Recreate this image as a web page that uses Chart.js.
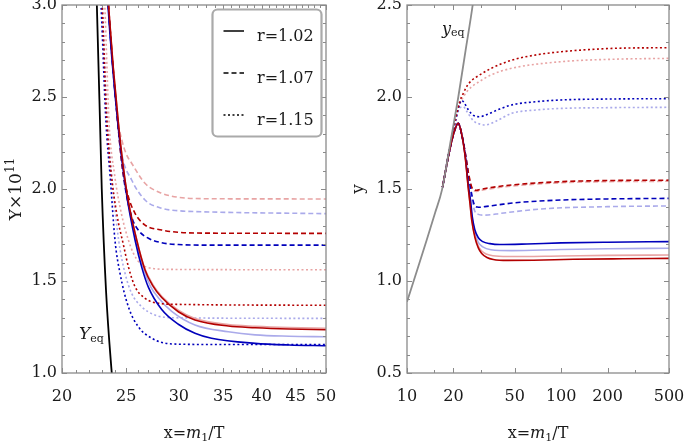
<!DOCTYPE html>
<html>
<head>
<meta charset="utf-8">
<script src="https://cdn.jsdelivr.net/npm/chart.js@4.4.0/dist/chart.umd.min.js"></script>
<style>
  body { margin: 0; background: #fff; overflow: hidden; }
  #wrap { position: relative; width: 685px; height: 441px; }
  canvas { position: absolute; top: 0; }
</style>
</head>
<body>
<div id="wrap">
  <canvas id="leftChart" width="345" height="441" style="left:0"></canvas>
  <canvas id="rightChart" width="340" height="441" style="left:345px"></canvas>
</div>
<script>
// ---- tick labels ----
const leftXTicks = [20, 25, 30, 35, 40, 45, 50];
const leftYTicks = [1.0, 1.5, 2.0, 2.5, 3.0];
const rightXTicks = [10, 20, 50, 100, 200, 500];
const rightYTicks = [0.5, 1.0, 1.5, 2.0, 2.5];
const rightXMinor = [15, 30, 300];

// ---- left panel: Y x 10^11 vs x ----
const leftYeq = [[22.5,3.1],[22.56,3.03],[22.96,2.0],[23.3,1.45],[23.77,1.0],[23.85,0.94]];

const L_solid_dr = [[23.2,3.35],[23.5,3.0],[24.35,2.34],[25.05,1.98],[25.92,1.723],[26.68,1.56],[27.4,1.475],[28.27,1.41],[29.95,1.333],[31.73,1.288],[35.62,1.255],[39.1,1.246],[44,1.239],[50,1.235]];
const L_solid_lr = [[23.2,3.35],[23.5,3.0],[24.35,2.34],[25.05,1.98],[25.92,1.725],[26.68,1.565],[27.4,1.482],[28.27,1.417],[29.95,1.341],[31.73,1.296],[35.62,1.263],[39.1,1.254],[44,1.247],[50,1.243]];
const L_solid_db = [[23.2,3.35],[23.46,3.0],[24.3,2.34],[25.0,1.98],[25.77,1.723],[26.4,1.57],[27.0,1.465],[28.27,1.345],[29.95,1.265],[31.73,1.216],[33.6,1.189],[39.1,1.161],[44,1.152],[50,1.148]];
const L_solid_lb = [[23.2,3.35],[23.48,3.0],[24.32,2.34],[25.02,1.98],[25.85,1.723],[26.55,1.565],[27.2,1.47],[28.0,1.405],[29.27,1.335],[31.73,1.261],[35.62,1.224],[39.1,1.207],[44,1.2],[50,1.197]];

const L_dash_lr = [[23.2,3.35],[23.5,3.0],[24.3,2.37],[24.6,2.27],[25.0,2.19],[25.47,2.14],[26.68,2.031],[28.27,1.977],[29.95,1.955],[33.6,1.947],[50,1.946]];
const L_dash_lb = [[23.2,3.35],[23.5,3.0],[24.3,2.35],[24.6,2.194],[25.47,2.049],[26.68,1.94],[28.27,1.895],[29.95,1.882],[33.6,1.875],[50,1.866]];
const L_dash_dr = [[23.2,3.35],[23.5,3.0],[24.3,2.34],[24.7,2.1],[25.18,1.958],[25.77,1.868],[26.68,1.804],[28.27,1.777],[29.95,1.765],[33.6,1.76],[50,1.759]];
const L_dash_db = [[23.2,3.35],[23.48,3.0],[24.3,2.34],[24.8,2.05],[25.47,1.849],[26.06,1.777],[27.0,1.732],[28.27,1.708],[29.95,1.698],[33.6,1.695],[50,1.695]];

const L_dot_db = [[22.6,3.35],[22.9,3.0],[23.3,2.36],[23.65,2.06],[24.04,1.72],[24.46,1.542],[25.18,1.36],[26.06,1.252],[27.31,1.189],[29.27,1.158],[33.6,1.155],[50,1.155]];
const L_dot_dr = [[22.75,3.35],[23.0,3.0],[23.35,2.4],[23.7,2.1],[24.2,1.86],[24.74,1.70],[25.18,1.578],[25.77,1.469],[26.68,1.406],[27.94,1.379],[29.95,1.373],[50,1.368]];
const L_dot_lb = [[22.75,3.35],[23.0,3.0],[23.4,2.38],[23.8,2.05],[24.35,1.72],[24.89,1.542],[25.47,1.433],[26.37,1.36],[27.62,1.315],[29.6,1.3],[50,1.297]];
const L_dot_lr = [[22.9,3.35],[23.2,3.0],[23.55,2.36],[24.0,2.08],[24.6,1.86],[25.18,1.723],[25.62,1.651],[26.22,1.596],[27.31,1.569],[29.27,1.563],[50,1.561]];

// ---- right panel: y vs x ----
const rightYeq = [[10,0.887],[11.6,1.056],[13.42,1.223],[15.2,1.37],[16.86,1.495],[19,1.74],[21.51,2.0],[24,2.255],[26.67,2.5],[27.6,2.6]];

const R_solid_dr = [[17,1.51],[19,1.72],[20.3,1.815],[21.5,1.857],[22.6,1.80],[23.8,1.68],[25.0,1.50],[25.62,1.42],[26.3,1.33],[27.6,1.235],[29.0,1.18],[30.5,1.15],[33,1.128],[36.3,1.117],[45,1.112],[66,1.113],[120,1.118],[250,1.121],[500,1.123]];
const R_solid_lr = [[17,1.51],[19,1.72],[20.3,1.815],[21.5,1.857],[22.6,1.80],[23.8,1.68],[25.0,1.50],[25.65,1.42],[26.35,1.33],[27.6,1.245],[29,1.19],[30.5,1.163],[33,1.145],[36,1.137],[45,1.133],[100,1.136],[200,1.139],[500,1.141]];
const R_solid_lb = [[17,1.51],[19,1.72],[20.3,1.815],[21.5,1.857],[22.6,1.80],[23.8,1.69],[25.0,1.51],[25.7,1.43],[26.4,1.34],[27.5,1.26],[29,1.21],[31,1.185],[35,1.17],[47.7,1.165],[100,1.171],[200,1.175],[500,1.178]];
const R_solid_db = [[17,1.51],[19,1.72],[20.3,1.815],[21.5,1.857],[22.6,1.80],[23.8,1.69],[25.0,1.52],[25.8,1.44],[26.5,1.35],[27.5,1.28],[29,1.235],[31,1.214],[34.5,1.203],[40,1.198],[60,1.201],[100,1.207],[200,1.211],[500,1.214]];

const R_dash_dr = [[17,1.51],[19,1.72],[20.3,1.815],[21.5,1.857],[22.6,1.80],[23.8,1.70],[25.0,1.59],[26.3,1.51],[27.3,1.496],[28.3,1.493],[30,1.498],[35,1.508],[47.7,1.522],[100,1.54],[200,1.546],[500,1.548]];
const R_dash_lr = [[17,1.51],[19,1.72],[20.3,1.815],[21.5,1.857],[22.6,1.80],[23.8,1.70],[25.0,1.585],[26.3,1.505],[27.3,1.49],[28.3,1.487],[30,1.492],[35,1.502],[47.7,1.516],[100,1.534],[200,1.54],[500,1.542]];
const R_dash_db = [[17,1.51],[19,1.72],[20.3,1.815],[21.5,1.857],[22.6,1.80],[23.8,1.70],[25.0,1.58],[26.3,1.47],[27.3,1.415],[28.5,1.402],[30,1.401],[32,1.404],[40,1.415],[50,1.425],[100,1.44],[200,1.446],[500,1.449]];
const R_dash_lb = [[17,1.51],[19,1.72],[20.3,1.815],[21.5,1.857],[22.6,1.80],[23.8,1.70],[25.0,1.57],[26.3,1.45],[27.5,1.38],[29,1.362],[31,1.358],[35,1.36],[40,1.367],[78.5,1.393],[200,1.404],[500,1.408]];

const R_dot_dr = [[17,1.51],[19,1.73],[20.5,1.87],[22,1.975],[23.18,2.02],[24.5,2.06],[26.27,2.09],[29,2.115],[35,2.155],[47.7,2.20],[70,2.23],[100,2.246],[212,2.264],[500,2.268]];
const R_dot_lr = [[17,1.51],[19,1.73],[20.5,1.865],[22,1.965],[23.18,2.0],[24.5,2.03],[26.27,2.056],[29,2.08],[35,2.12],[47.7,2.156],[100,2.192],[212,2.205],[500,2.21]];
const R_dot_db = [[17,1.51],[19,1.73],[20.5,1.86],[22,1.965],[22.63,1.982],[23.5,1.968],[25,1.93],[27,1.90],[29.74,1.893],[33,1.905],[40,1.935],[47.7,1.957],[70,1.975],[100,1.984],[200,1.989],[500,1.991]];
const R_dot_lb = [[17,1.51],[19,1.73],[20.5,1.855],[22,1.94],[23.18,1.947],[24.5,1.92],[27,1.87],[30,1.852],[32.05,1.848],[38,1.87],[47.7,1.911],[70,1.93],[100,1.938],[200,1.942],[500,1.944]];

// ---- styles ----
const DR = '#b30000', LR = '#e8a4a4', DB = '#0000bb', LB = '#aaaaea';
const SOLID = [], DASH = [5, 3], DOT = [2, 2.5];
const SERIF = "'DejaVu Serif', 'Liberation Serif', serif";
const INK = '#1a1a1a';

Chart.defaults.font.family = SERIF;
Chart.defaults.font.size = 16;
Chart.defaults.color = INK;

function line(pts, color, dash, w) {
  return {
    data: pts.map(([x, y]) => ({ x, y })),
    borderColor: color,
    borderDash: dash,
    borderWidth: w || 1.6,
    pointRadius: 0,
    fill: false,
    cubicInterpolationMode: 'monotone'
  };
}

function drawRuns(ctx, x, y, runs, align) {
  let w = 0;
  runs.forEach(r => { ctx.font = r[1]; w += ctx.measureText(r[0]).width; });
  let cx = align === 'left' ? x : x - w / 2;
  ctx.textAlign = 'left';
  ctx.textBaseline = 'alphabetic';
  runs.forEach(r => {
    ctx.font = r[1];
    ctx.fillText(r[0], cx, y + (r[2] || 0));
    cx += ctx.measureText(r[0]).width;
  });
}

const F = '16px ' + SERIF, FI = 'italic 16px ' + SERIF, FS = '11px ' + SERIF;

// frame with inward ticks on all four sides
const frame = {
  id: 'frame',
  afterDatasetsDraw(chart, args, o) {
    const { ctx, chartArea: a, scales: { x, y } } = chart;
    ctx.save();
    ctx.strokeStyle = '#8a8a8a';
    ctx.lineWidth = 1.3;
    ctx.strokeRect(a.left, a.top, a.right - a.left, a.bottom - a.top);
    ctx.lineWidth = 1;
    ctx.beginPath();
    o.xTicks.forEach(([v, len]) => {
      const p = Math.round(x.getPixelForValue(v)) + 0.5;
      ctx.moveTo(p, a.bottom); ctx.lineTo(p, a.bottom - len);
      ctx.moveTo(p, a.top); ctx.lineTo(p, a.top + len);
    });
    o.yTicks.forEach(([v, len]) => {
      const p = Math.round(y.getPixelForValue(v)) + 0.5;
      ctx.moveTo(a.left, p); ctx.lineTo(a.left + len, p);
      ctx.moveTo(a.right, p); ctx.lineTo(a.right - len, p);
    });
    ctx.stroke();
    ctx.restore();
  }
};

function tickList(major, from, to, step) {
  const out = major.map(v => [v, 5]);
  for (let v = from; v < to - 1e-9; v += step) {
    const r = Math.round(v * 1000) / 1000;
    if (!major.some(m => Math.abs(m - r) < 1e-9)) out.push([r, 3]);
  }
  return out;
}

function scalesFor(xMin, xMax, xTicks, yMin, yMax, yTicks) {
  return {
    x: {
      type: 'logarithmic', min: xMin, max: xMax,
      grid: { display: false, drawTicks: false },
      border: { display: false },
      afterBuildTicks: s => { s.ticks = xTicks.map(v => ({ value: v })); },
      afterFit: s => { s.height = 68; s.paddingLeft = 0; s.paddingRight = 0; },
      ticks: { callback: v => String(v), padding: 14, maxRotation: 0, autoSkip: false, source: 'data' }
    },
    y: {
      type: 'linear', min: yMin, max: yMax,
      grid: { display: false, drawTicks: false },
      border: { display: false },
      afterBuildTicks: s => { s.ticks = yTicks.map(v => ({ value: v })); },
      afterFit: s => { s.width = 62; s.paddingTop = 0; s.paddingBottom = 0; },
      ticks: { callback: v => Number(v).toFixed(1), padding: 5, autoSkip: false, source: 'data' }
    }
  };
}

// ---- left chart ----
const leftText = {
  id: 'leftText',
  afterDraw(chart) {
    const c = chart.ctx;
    c.save();
    c.fillStyle = INK;
    drawRuns(c, 194, 438, [['x=', F], ['m', FI], ['1', FS, 3], ['/T', F]]);
    c.translate(21, 189);
    c.rotate(-Math.PI / 2);
    drawRuns(c, 0, 0, [['Y×10', '17px ' + SERIF], ['11', '12px ' + SERIF, -7]]);
    c.setTransform(1, 0, 0, 1, 0, 0);
    drawRuns(c, 79, 339, [['Y', 'italic 17px ' + SERIF], ['eq', '11px ' + SERIF, 3]], 'left');
    // legend box
    c.fillStyle = '#fff';
    c.strokeStyle = '#aaaaaa';
    c.lineWidth = 2.2;
    c.beginPath();
    c.roundRect(212.5, 9.5, 109, 127, 5);
    c.fill();
    c.stroke();
    const items = [['r=1.02', SOLID, 31], ['r=1.07', DASH, 73], ['r=1.15', DOT, 115]];
    items.forEach(([t, d, yy]) => {
      c.strokeStyle = '#000';
      c.lineWidth = 1.5;
      c.setLineDash(d);
      c.beginPath();
      c.moveTo(223.5, yy); c.lineTo(244, yy);
      c.stroke();
      c.setLineDash([]);
      c.fillStyle = INK;
      drawRuns(c, 257, yy + 10, [[t, F]], 'left');
    });
    c.restore();
  }
};

new Chart(document.getElementById('leftChart'), {
  type: 'line',
  data: {
    datasets: [
      line(leftYeq, '#000000', SOLID, 1.8),
      line(L_solid_dr, DR, SOLID),
      line(L_solid_db, DB, SOLID),
      line(L_dash_dr, DR, DASH),
      line(L_dash_db, DB, DASH),
      line(L_dot_dr, DR, DOT),
      line(L_dot_db, DB, DOT),
      line(L_solid_lr, LR, SOLID),
      line(L_solid_lb, LB, SOLID),
      line(L_dash_lr, LR, DASH),
      line(L_dash_lb, LB, DASH),
      line(L_dot_lr, LR, DOT),
      line(L_dot_lb, LB, DOT)
    ]
  },
  options: {
    responsive: false,
    animation: false,
    layout: { padding: { left: 0, right: 19, top: 5, bottom: 0 } },
    plugins: {
      legend: { display: false },
      tooltip: { enabled: false },
      frame: {
        xTicks: tickList(leftXTicks, 21, 50, 1),
        yTicks: tickList(leftYTicks, 1.1, 3.0, 0.1)
      }
    },
    scales: scalesFor(20, 50, leftXTicks, 1, 3, leftYTicks)
  },
  plugins: [frame, leftText]
});

// ---- right chart ----
const rightText = {
  id: 'rightText',
  afterDraw(chart) {
    const c = chart.ctx;
    c.save();
    c.fillStyle = INK;
    drawRuns(c, 193, 438, [['x=', F], ['m', FI], ['1', FS, 3], ['/T', F]]);
    c.translate(18, 189);
    c.rotate(-Math.PI / 2);
    drawRuns(c, 0, 0, [['y', '17px ' + SERIF]]);
    c.setTransform(1, 0, 0, 1, 0, 0);
    drawRuns(c, 97, 34, [['y', 'italic 16px ' + SERIF], ['eq', '11px ' + SERIF, 2]], 'left');
    c.restore();
  }
};

new Chart(document.getElementById('rightChart'), {
  type: 'line',
  data: {
    datasets: [
      line(rightYeq, '#8c8c8c', SOLID, 1.8),
      line(R_solid_dr, DR, SOLID),
      line(R_solid_db, DB, SOLID),
      line(R_dash_dr, DR, DASH),
      line(R_dash_db, DB, DASH),
      line(R_dot_dr, DR, DOT),
      line(R_dot_db, DB, DOT),
      line(R_solid_lr, LR, SOLID),
      line(R_solid_lb, LB, SOLID),
      line(R_dash_lr, LR, DASH),
      line(R_dash_lb, LB, DASH),
      line(R_dot_lr, LR, DOT),
      line(R_dot_lb, LB, DOT)
    ]
  },
  options: {
    responsive: false,
    animation: false,
    layout: { padding: { left: 0, right: 16, top: 5, bottom: 0 } },
    plugins: {
      legend: { display: false },
      tooltip: { enabled: false },
      frame: {
        xTicks: rightXTicks.map(v => [v, 5]).concat(rightXMinor.map(v => [v, 3])),
        yTicks: tickList(rightYTicks, 0.6, 2.5, 0.1)
      }
    },
    scales: scalesFor(10, 500, rightXTicks, 0.5, 2.5, rightYTicks)
  },
  plugins: [frame, rightText]
});
</script>
</body>
</html>
